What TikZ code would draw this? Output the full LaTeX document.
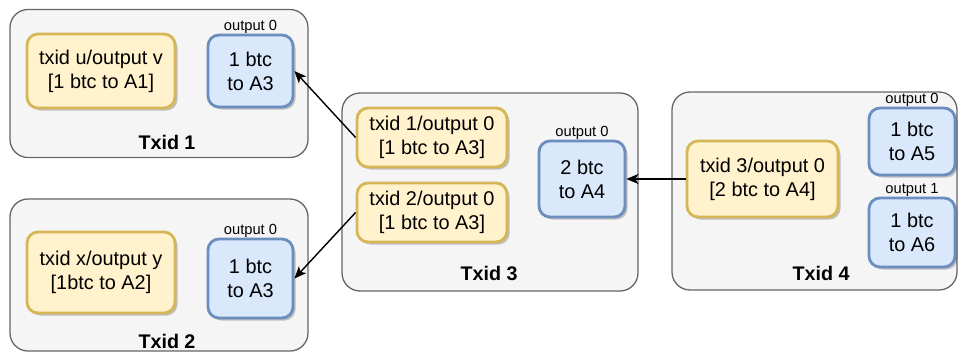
\documentclass[tikz,border=0pt]{standalone}
\usepackage{fontspec}
\setmainfont{Liberation Sans}
\usepackage{tikz}
\usetikzlibrary{arrows.meta,shadows,positioning}
\definecolor{txfill}{HTML}{F5F5F5}
\definecolor{txline}{HTML}{666666}
\definecolor{infill}{HTML}{FFF2CC}
\definecolor{inline}{HTML}{D6B656}
\definecolor{outfill}{HTML}{DAE8FC}
\definecolor{outline}{HTML}{6C8EBF}
\tikzstyle{txbox}=[draw=txline, fill=txfill, line width=1.3pt, rounded corners=18pt, inner sep=0pt]
\tikzstyle{inbox}=[draw=inline, fill=infill, line width=2.8pt, rounded corners=11pt, align=center, inner sep=0pt,
    drop shadow={shadow xshift=2.5pt, shadow yshift=-2.5pt, fill=black, opacity=0.22},
    font=\fontsize{19.9}{24}\selectfont]
\tikzstyle{outbox}=[inbox, draw=outline, fill=outfill]
\tikzstyle{outlbl}=[inner sep=0pt, font=\fontsize{14.7}{16}\selectfont]
\tikzstyle{txlbl}=[inner sep=0pt, font=\fontsize{19.7}{23.8}\selectfont\bfseries]
\tikzstyle{spend}=[-{Stealth[length=12pt,width=10pt,inset=3pt]}, line width=1.4pt]

\begin{document}
\begin{tikzpicture}[x=1pt,y=-1pt]
\useasboundingbox (0,0) rectangle (960,353);

% transactions
\node[txbox, minimum width=298pt, minimum height=148pt] (tx1) at (159,83.5) {};
\node[txbox, minimum width=298pt, minimum height=152pt] (tx2) at (159,275) {};
\node[txbox, minimum width=296pt, minimum height=198pt] (tx3) at (490,192) {};
\node[txbox, minimum width=285pt, minimum height=198pt] (tx4) at (814.5,191) {};

\node[txlbl] (tx1lbl) at (167,142) {Txid 1};
\node[txlbl] (tx2lbl) at (167,341) {Txid 2};
\node[txlbl] (tx3lbl) at (489,273) {Txid 3};
\node[txlbl] (tx4lbl) at (821,273) {Txid 4};

% Txid 1
\node[inbox, minimum width=148pt, minimum height=74pt] (in1) at (101,71) {txid u/output v\\{}[1 btc to A1]};
\node[outbox, minimum width=85pt, minimum height=72pt] (out1) at (250.5,71) {1 btc\\to A3};
\node[outlbl, above=0pt of out1.north] (out1lbl) {output 0};

% Txid 2
\node[inbox, minimum width=148pt, minimum height=81pt] (in2) at (101,272.5) {txid x/output y\\{}[1btc to A2]};
\node[outbox, minimum width=85pt, minimum height=79pt] (out2) at (250.5,278.5) {1 btc\\to A3};
\node[outlbl, above=0pt of out2.north] (out2lbl) {output 0};

% Txid 3
\node[inbox, minimum width=150pt, minimum height=59pt] (in31) at (432,137.5) {txid 1/output 0\\{}[1 btc to A3]};
\node[inbox, minimum width=150pt, minimum height=59pt] (in32) at (432,212.5) {txid 2/output 0\\{}[1 btc to A3]};
\node[outbox, minimum width=86pt, minimum height=76pt] (out3) at (582,179) {2 btc\\to A4};
\node[outlbl, above=0pt of out3.north] (out3lbl) {output 0};

% Txid 4
\node[inbox, minimum width=151pt, minimum height=76pt] (in4) at (762.5,179) {txid 3/output 0\\{}[2 btc to A4]};
\node[outbox, minimum width=86pt, minimum height=67pt] (out41) at (912,141.5) {1 btc\\to A5};
\node[outlbl, above=0pt of out41.north] (out41lbl) {output 0};
\node[outbox, minimum width=86pt, minimum height=69pt] (out42) at (912,232.5) {1 btc\\to A6};
\node[outlbl, above=0pt of out42.north] (out42lbl) {output 1};

% spends
\draw[spend] (in31.west) -- (out1.east);
\draw[spend] (in32.west) -- (out2.east);
\draw[spend] (in4.west) -- (out3.east);

\end{tikzpicture}
\end{document}
